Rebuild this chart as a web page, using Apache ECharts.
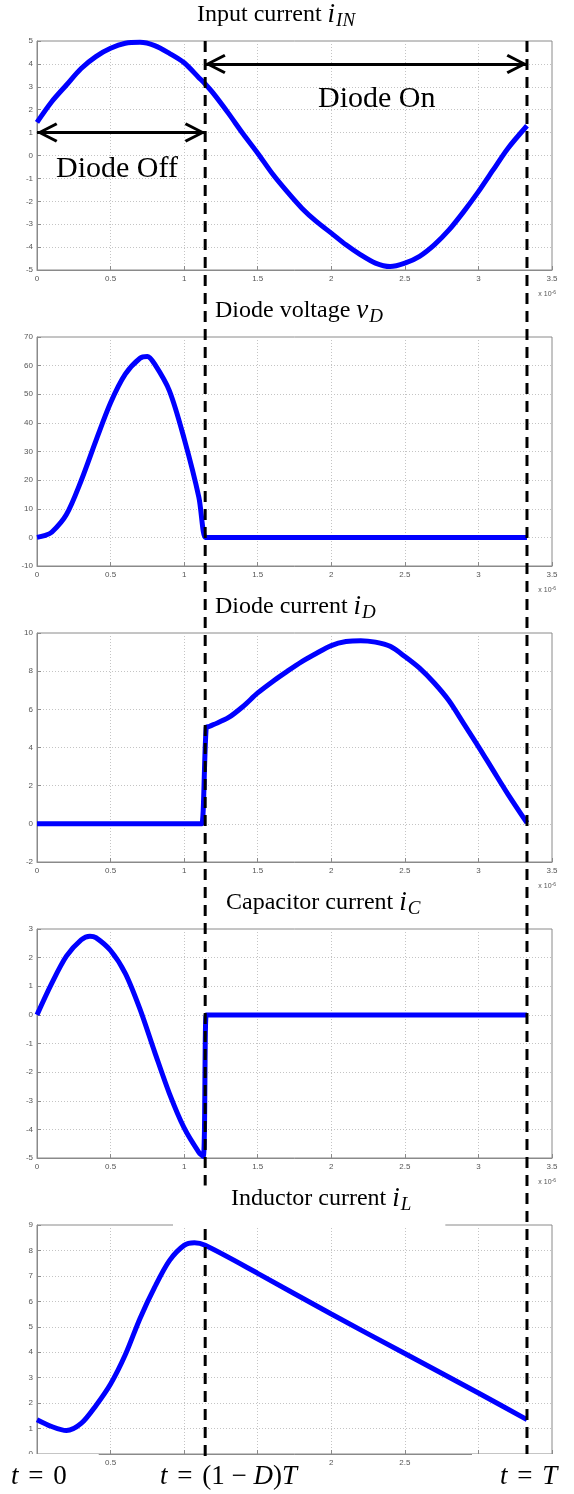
<!DOCTYPE html>
<html>
<head>
<meta charset="utf-8">
<script src="https://cdn.jsdelivr.net/npm/echarts@6/dist/echarts.min.js"></script>
<style>
  html, body { margin: 0; padding: 0; background: #fff; }
  #chart { width: 574px; height: 1494px; }
</style>
</head>
<body>
<div id="chart"></div>
<script>
// time in units of 1e-6 s
const t_in = [0, 0.1, 0.2, 0.3, 0.4, 0.5, 0.6, 0.7, 0.8, 0.9, 1.0, 1.1, 1.143, 1.2, 1.3, 1.4, 1.5, 1.6, 1.7, 1.8, 1.9, 2.0, 2.1, 2.2, 2.3, 2.4, 2.5, 2.6, 2.7, 2.8, 2.9, 3.0, 3.1, 3.2, 3.33];
const i_in = [1.45, 2.35, 3.08, 3.8, 4.32, 4.68, 4.9, 4.94, 4.8, 4.46, 4.05, 3.4, 3.12, 2.7, 1.85, 0.95, 0.1, -0.8, -1.58, -2.3, -2.89, -3.39, -3.9, -4.34, -4.7, -4.85, -4.7, -4.4, -3.9, -3.25, -2.45, -1.58, -0.63, 0.31, 1.3];

const t_vd = [0, 0.05, 0.1, 0.2, 0.3, 0.4, 0.5, 0.6, 0.7, 0.75, 0.8, 0.9, 1.0, 1.1, 1.143, 1.16, 1.5, 2.0, 2.5, 3.0, 3.33];
const v_d = [0, 0.6, 1.8, 8, 19.8, 33.7, 47, 57, 62.6, 63.2, 60.5, 51.2, 34.5, 14, 0, 0, 0, 0, 0, 0, 0];

const t_id = [0, 0.5, 1.1, 1.12, 1.15, 1.17, 1.2, 1.3, 1.4, 1.5, 1.6, 1.7, 1.8, 1.9, 2.0, 2.1, 2.2, 2.3, 2.4, 2.5, 2.6, 2.7, 2.8, 2.9, 3.0, 3.1, 3.2, 3.33];
const i_d = [0, 0, 0, 0, 5.05, 5.1, 5.2, 5.56, 6.15, 6.86, 7.45, 7.99, 8.5, 8.94, 9.34, 9.55, 9.6, 9.52, 9.3, 8.77, 8.16, 7.38, 6.45, 5.25, 4.05, 2.8, 1.56, 0.05];

const t_ic = [0, 0.1, 0.2, 0.3, 0.36, 0.4, 0.5, 0.6, 0.7, 0.8, 0.9, 1.0, 1.1, 1.13, 1.15, 1.17, 1.5, 2.0, 2.5, 3.0, 3.33];
const i_c = [0, 1.1, 2.05, 2.62, 2.75, 2.7, 2.25, 1.45, 0.2, -1.3, -2.75, -3.95, -4.8, -4.95, 0, 0, 0, 0, 0, 0, 0];

const t_il = [0, 0.1, 0.2, 0.3, 0.4, 0.5, 0.6, 0.7, 0.8, 0.9, 1.0, 1.07, 1.143, 1.5, 2.0, 2.5, 3.0, 3.33];
const i_l = [1.35, 1.08, 0.92, 1.2, 1.9, 2.75, 3.9, 5.33, 6.56, 7.6, 8.2, 8.3, 8.2, 7.1, 5.5, 3.95, 2.4, 1.35];

// switching instants: t = (1-D)T and t = T
const switch_times = [1.143, 3.33];

const y_min = [-5, -10, -2, -5, 0];
const y_max = [5, 70, 10, 3, 9];
const y_step = [1, 10, 2, 1, 1];

const titles = [
  ["Input current ", "i", "IN"],
  ["Diode voltage ", "v", "D"],
  ["Diode current ", "i", "D"],
  ["Capacitor current ", "i", "C"],
  ["Inductor current ", "i", "L"],
];
const title_left = [197, 215, 215, 226, 231];

const last_x_labels = ["0.5", "2", "2.5"];

const series_t = [t_in, t_vd, t_id, t_ic, t_il];
const series_v = [i_in, v_d, i_d, i_c, i_l];

const chart = echarts.init(document.getElementById("chart"));

const grid_top = [41, 337, 633, 929, 1225];
const grid_h = 229;
const serif = "Liberation Serif";
const sans = "Liberation Sans";

const grids = grid_top.map((top) => ({
  left: 37, width: 515, top: top, height: grid_h,
  show: true, borderColor: "#8a8a8a", borderWidth: 1,
}));
// overlay for the dashed switching lines
grids.push({ left: 37, width: 515, top: 41, bottom: 38 });

const xAxes = grid_top.map((_, i) => ({
  gridIndex: i, type: "value", min: 0, max: 3.5, interval: 0.5,
  axisLine: { show: true, onZero: false, lineStyle: { color: "#8a8a8a" } },
  axisTick: { show: true, inside: true, length: 4, lineStyle: { color: "#8a8a8a" } },
  splitLine: { show: true, lineStyle: { color: "#c4c4c4", type: [1, 2] } },
  axisLabel: {
    fontSize: 8, color: "#555", fontFamily: sans, margin: 5,
    formatter: (v) => {
      const s = String(v);
      if (i === 4) return last_x_labels.includes(s) ? s : "";
      return s;
    },
  },
  name: i === 4 ? "" : "{x|x 10}{e|-6}",
  nameLocation: "end", nameGap: 4,
  nameTextStyle: {
    align: "right", verticalAlign: "top", padding: [20, 0, 0, 0],
    rich: {
      x: { fontSize: 7, color: "#555", fontFamily: sans },
      e: { fontSize: 5, color: "#555", fontFamily: sans, verticalAlign: "top", padding: [0, 0, 4, 0] },
    },
  },
}));
xAxes.push({ gridIndex: 5, type: "value", min: 0, max: 3.5, show: false });

const yAxes = grid_top.map((_, i) => ({
  gridIndex: i, type: "value", min: y_min[i], max: y_max[i], interval: y_step[i],
  axisLine: { show: true, onZero: false, lineStyle: { color: "#8a8a8a" } },
  axisTick: { show: true, inside: true, length: 4, lineStyle: { color: "#8a8a8a" } },
  splitLine: { show: true, lineStyle: { color: "#c4c4c4", type: [1, 2] } },
  axisLabel: { fontSize: 8, color: "#555", fontFamily: sans, margin: 4 },
}));
yAxes.push({ gridIndex: 5, type: "value", min: 0, max: 1, show: false });

const chevron = "path://M10,0 L20,19 L17.5,20.5 L10,6 L2.5,20.5 L0,19 Z";

const series = series_t.map((ts, i) => {
  const s = {
    type: "line",
    xAxisIndex: i, yAxisIndex: i,
    data: ts.map((t, k) => [t, series_v[i][k]]),
    showSymbol: false,
    smooth: 0.3,
    lineStyle: { color: "#0000ff", width: 5 },
    z: 3,
  };
  if (i === 0) {
    s.markLine = {
      silent: true,
      symbol: [chevron, chevron],
      symbolSize: [20, 21],
      symbolOffset: [[0, 10], [0, 10]],
      lineStyle: { color: "#000", width: 3, type: "solid" },
      label: { show: false },
      data: [
        [{ coord: [0, 1] }, { coord: [switch_times[0], 1] }],
        [{ coord: [switch_times[0], 4] }, { coord: [switch_times[1], 4] }],
      ],
    };
  }
  return s;
});

switch_times.forEach((ts) => {
  series.push({
    type: "line", xAxisIndex: 5, yAxisIndex: 5,
    data: [[ts, 0], [ts, 1]],
    showSymbol: false,
    lineStyle: { color: "#000", width: 3, type: [11, 7] },
    z: 5, silent: true,
  });
});

const title_rich = {
  a: { fontSize: 24, fontFamily: serif, fontWeight: "normal", color: "#000", lineHeight: 30 },
  v: { fontSize: 27, fontFamily: serif, fontWeight: "normal", fontStyle: "italic", color: "#000", lineHeight: 30, padding: [0, 1, 0, 0] },
  s: { fontSize: 19, fontFamily: serif, fontWeight: "normal", fontStyle: "italic", color: "#000", lineHeight: 30, verticalAlign: "bottom" },
};

const title_list = titles.map((p, i) => {
  const t = {
    text: "{a|" + p[0] + "}{v|" + p[1] + "}{s|" + p[2] + "}",
    left: title_left[i], top: grid_top[i] - 41,
    padding: 0,
    textStyle: { fontWeight: "normal", rich: title_rich },
  };
  if (i === 4) {
    // white label box hides part of the frame, as in the source figure
    t.left = 173;
    t.padding = [0, 34, 12, 58];
    t.backgroundColor = "#fff";
  }
  return t;
});

const math_rich = {
  i: { fontSize: 27, fontFamily: serif, fontStyle: "italic", color: "#000" },
  n: { fontSize: 27, fontFamily: serif, color: "#000" },
  e: { fontSize: 27, fontFamily: serif, color: "#000", padding: [0, 3, 0, 3] },
};

chart.setOption({
  animation: false,
  backgroundColor: "#fff",
  title: title_list,
  grid: grids,
  xAxis: xAxes,
  yAxis: yAxes,
  series: series,
  graphic: [
    { type: "text", left: 318, top: 84, z: 10, style: { text: "Diode On", fontSize: 30, fontFamily: serif, fill: "#000" } },
    { type: "text", left: 56, top: 154, z: 10, style: { text: "Diode Off", fontSize: 30, fontFamily: serif, fill: "#000" } },
    { type: "text", left: 0, top: 1454, z: 10, style: { text: "{i|t}{e| = }{n|0}", rich: math_rich, backgroundColor: "#fff", padding: [9, 32, 10, 11] } },
    { type: "text", left: 160, top: 1463, z: 10, style: { text: "{i|t}{e| = }{n|(1 − }{i|D}{n|)}{i|T}", rich: math_rich } },
    { type: "text", left: 472, top: 1454, z: 10, style: { text: "{i|t}{e| = }{i|T}", rich: math_rich, backgroundColor: "#fff", padding: [9, 20, 10, 28] } },
  ],
});
</script>
</body>
</html>
